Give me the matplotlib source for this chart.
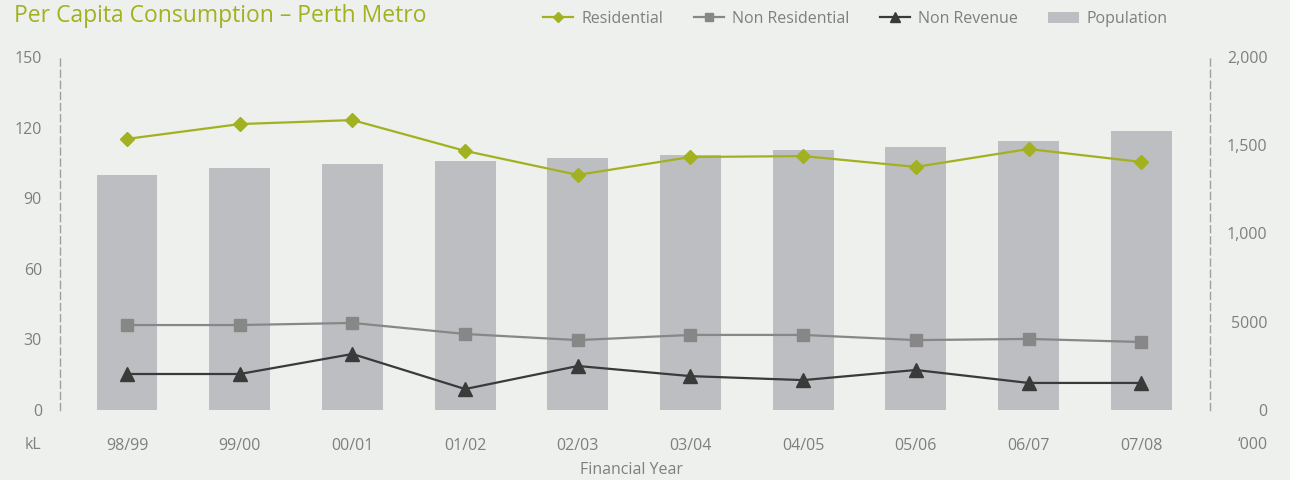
import matplotlib
matplotlib.use("Agg")
import matplotlib.pyplot as plt
from matplotlib.patches import Patch
from matplotlib.lines import Line2D

years = ["98/99", "99/00", "00/01", "01/02", "02/03", "03/04", "04/05", "05/06", "06/07", "07/08"]
residential = [115.2, 121.5, 123.2, 110.1, 99.9, 107.5, 107.9, 103.3, 110.9, 105.4]
non_residential = [36.1, 36.1, 37.0, 32.3, 29.7, 31.9, 31.9, 29.7, 30.2, 28.9]
non_revenue = [15.3, 15.3, 23.8, 8.9, 18.7, 14.4, 12.7, 17.0, 11.5, 11.5]
population = [1331, 1371, 1394, 1411, 1428, 1445, 1473, 1490, 1524, 1581]
left_ticks = [0, 30, 60, 90, 120, 150]
right_ticks = [0, 500, 1000, 1500, 2000]
right_labels = ["0", "5000", "1,000", "1,500", "2,000"]

BG = "#eef0ed"
GREEN = "#a2b11f"
GREY = "#878787"
DARK = "#3a3a3a"
BAR = "#bdbec1"
TXT = "#7f7f7f"
plt.rcParams['font.family'] = ['Open Sans', 'DejaVu Sans']

fig = plt.figure(figsize=(12.9, 4.8), dpi=100, facecolor=BG)
ax2 = fig.add_axes([60/1290, 1-410/480, 1150/1290, 353/480])
ax2.set_facecolor(BG)
x = list(range(len(years)))
ax2.bar(x, population, width=0.54, color=BAR, zorder=1)
ax2.set_ylim(0, 2000)
ax2.set_xlim(-0.595, 9.61)

ax = ax2.twinx()
ax.set_ylim(0, 150)
ax.yaxis.tick_left()
ax2.yaxis.tick_right()
ax.plot(x, residential, color=GREEN, marker="D", markersize=7, lw=1.6, zorder=3)
ax.plot(x, non_residential, color=GREY, marker="s", markersize=9, lw=1.6, zorder=3)
ax.plot(x, non_revenue, color=DARK, marker="^", markersize=10, lw=1.6, zorder=3)

ax.set_yticks(left_ticks)
ax.set_yticklabels([str(t) for t in left_ticks])
ax2.set_yticks(right_ticks)
ax2.set_yticklabels(right_labels)
ax2.set_xticks(x)
ax2.set_xticklabels(years)

for a in (ax, ax2):
    for s in a.spines.values():
        s.set_visible(False)
    a.tick_params(length=0, colors=TXT, labelsize=11.5)
ax.tick_params(axis='y', pad=13)
ax2.tick_params(axis='x', pad=20)
ax2.tick_params(axis='y', pad=41.5)
for lbl in ax2.get_yticklabels():
    lbl.set_horizontalalignment('right')

for a, side in ((ax, 'left'), (ax2, 'right')):
    sp = a.spines[side]
    sp.set_visible(True)
    sp.set_color("#a0a0a0")
    sp.set_linestyle((0, (5, 3)))
    sp.set_linewidth(1.0)

fig.text(14/1290, 1-16/480, "Per Capita Consumption \u2013 Perth Metro", color=GREEN,
         fontsize=16.5, va='center', ha='left')
fig.text(33/1290, 1-445/480, "kL", color=TXT, fontsize=11.5, ha='center', va='center')
fig.text(1268/1290, 1-445/480, "\u2018000", color=TXT, fontsize=11.5, ha='right', va='center')
fig.text(632/1290, 1-470/480, "Financial Year", color=TXT, fontsize=11.5, ha='center', va='center')

handles = [
    Line2D([], [], color=GREEN, marker="D", markersize=5, lw=1.6),
    Line2D([], [], color=GREY, marker="s", markersize=6, lw=1.6),
    Line2D([], [], color=DARK, marker="^", markersize=7, lw=1.6),
    Patch(facecolor=BAR, edgecolor='none'),
]
labels = ["Residential", "Non Residential", "Non Revenue", "Population"]
leg = fig.legend(handles, labels, ncol=4, loc='center right', bbox_to_anchor=(1182/1290, 1-19/480),
                 frameon=False, fontsize=11.5, handlelength=1.9, handletextpad=0.5,
                 columnspacing=1.9, labelcolor=TXT)

fig.savefig("out.png", dpi=100, facecolor=BG)
